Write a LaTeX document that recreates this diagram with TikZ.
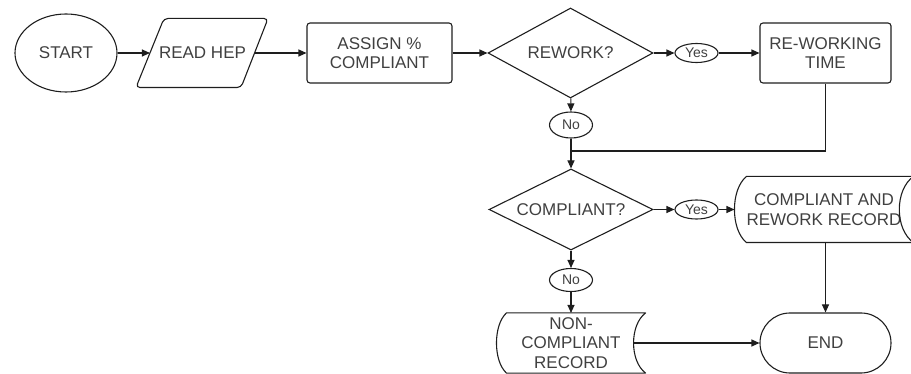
\documentclass[tikz,border=0pt]{standalone}
\usepackage{fontspec}
\setmainfont{Liberation Sans}
\usetikzlibrary{shapes.geometric,arrows.meta,calc}
\definecolor{ink}{HTML}{1E1E1E}
\definecolor{txt}{HTML}{404040}
\begin{document}
\begin{tikzpicture}[x=1pt,y=-1pt,
  shapebase/.style={draw=ink, line width=1.1pt, text=txt,
    font=\fontsize{17}{19.5}\selectfont, align=center, inner sep=0pt},
  termshape/.style={shapebase, ellipse, minimum width=102pt, minimum height=78pt},
  procshape/.style={shapebase, rectangle, rounded corners=3pt,
    minimum width=145pt, minimum height=60pt},
  decshape/.style={shapebase, diamond},
  tagshape/.style={shapebase, ellipse, font=\fontsize{14}{16}\selectfont,
    minimum width=43pt, minimum height=19pt},
  holder/.style={shapebase, draw=none, rectangle},
  rimline/.style={draw=ink, line width=1.1pt, line join=round},
  flowline/.style={draw=ink, line width=1.1pt},
  flowarrow/.style={flowline, -{Triangle[length=8pt,width=7pt]}}
]
\useasboundingbox (0,0) rectangle (911,374);
\clip (0,0) rectangle (911,374);

% top row
\node[termshape] (start) at (66,53) {START};
\node[holder, minimum width=104pt, minimum height=68pt] (read) at (202.5,53) {READ HEP};
\draw[rimline, rounded corners=4pt]
  ($(read.north west)+(14,0)$) -- ($(read.north east)+(13,0)$)
  -- ($(read.south east)+(-14,0)$) -- ($(read.south west)+(-14,0)$) -- cycle;
\node[procshape] (assign) at (379.5,53) {ASSIGN \%\\COMPLIANT};
\node[decshape, aspect=1.83, minimum width=165pt, minimum height=90pt] (rework) at (570.5,53) {REWORK?};
\node[tagshape] (yes1) at (696.5,53) {Yes};
\node[procshape, minimum width=131pt] (retime) at (825.5,53) {RE-WORKING\\TIME};

% rework branch
\node[tagshape, minimum height=26pt] (no1) at (571,125) {No};
\coordinate (merge) at (571,151);

% compliance check
\node[decshape, aspect=2, minimum width=164pt, minimum height=81pt] (compliant) at (571,209.5) {COMPLIANT?};
\node[tagshape] (yes2) at (696.5,209.5) {Yes};

% stored record: compliant and rework
\node[holder, minimum width=178pt, minimum height=65pt] (rec1) at (824,209.5) {COMPLIANT AND\\REWORK RECORD};
\draw[rimline]
  ($(rec1.north west)+(12,0)$) -- (rec1.north east)
  .. controls ($(rec1.north east)+(-19,13)$) and ($(rec1.south east)+(-19,-13)$) .. (rec1.south east)
  -- ($(rec1.south west)+(12,0)$)
  .. controls ($(rec1.south west)+(-4,-13)$) and ($(rec1.north west)+(-4,13)$) .. cycle;

% terminal
\node[shapebase, rectangle, rounded corners=30pt, minimum width=131pt, minimum height=60pt] (finish) at (825.5,343) {END};

% non-compliant branch
\node[tagshape, minimum height=23pt] (no2) at (571,280) {No};
\node[holder, minimum width=148pt, minimum height=59pt] (rec2) at (571,343) {NON-\\COMPLIANT\\RECORD};
\draw[rimline]
  ($(rec2.north west)+(10,0)$) -- (rec2.north east)
  .. controls ($(rec2.north east)+(-16,12)$) and ($(rec2.south east)+(-16,-12)$) .. (rec2.south east)
  -- ($(rec2.south west)+(10,0)$)
  .. controls ($(rec2.south west)+(-3.3,-12)$) and ($(rec2.north west)+(-3.3,12)$) .. cycle;
\coordinate (rec2out) at ($(rec2.east)+(-12,0)$);

% connectors
\draw[flowarrow] (start) -- (read);
\draw[flowarrow] (read) -- (assign);
\draw[flowarrow] (assign) -- (rework);
\draw[flowarrow] (rework) -- (yes1);
\draw[flowarrow] (yes1) -- (retime);
\draw[flowarrow] (rework) -- (no1);
\draw[flowline] (retime) |- (merge);
\draw[flowarrow] (no1) -- (compliant);
\draw[flowarrow] (compliant) -- (yes2);
\draw[flowarrow] (yes2) -- (rec1.west);
\draw[flowarrow] (finish.north |- rec1.south) -- (finish);
\draw[flowarrow] (compliant) -- (no2);
\draw[flowarrow] (no2) -- (rec2);
\draw[flowarrow] (rec2out) -- (finish);
\end{tikzpicture}
\end{document}
